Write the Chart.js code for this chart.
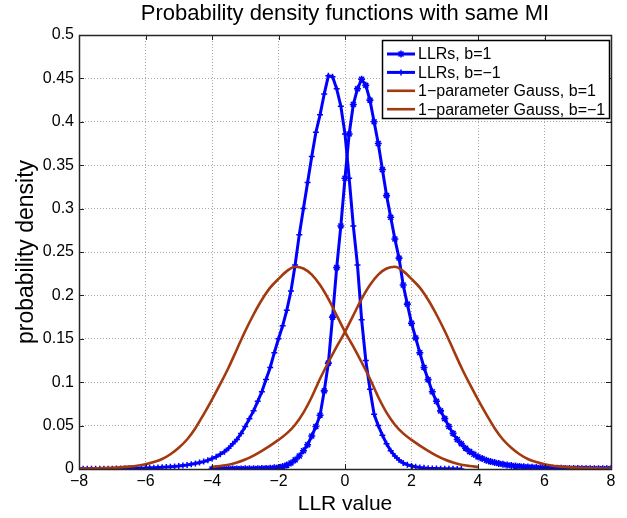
<!DOCTYPE html>
<html><head><meta charset="utf-8">
<script src="https://cdn.jsdelivr.net/npm/chart.js@4/dist/chart.umd.min.js"></script>
<style>html,body{margin:0;padding:0;background:#fff;}</style>
</head><body>
<canvas id="c" width="627" height="518"></canvas>
<script>
// ---- data ----
const chartTitle = "Probability density functions with same MI";
const xAxisLabel = "LLR value";
const yAxisLabel = "probability density";
const seriesLabels = ["LLRs, b=1", "LLRs, b=\u22121", "1\u2212parameter Gauss, b=1", "1\u2212parameter Gauss, b=\u22121"];
const xTicks = [-8, -6, -4, -2, 0, 2, 4, 6, 8];
const yTicks = [0, 0.05, 0.1, 0.15, 0.2, 0.25, 0.3, 0.35, 0.4, 0.45, 0.5];

const llrPosX = [-4,-3.875,-3.75,-3.625,-3.5,-3.375,-3.25,-3.125,-3,-2.875,-2.75,-2.625,-2.5,-2.375,-2.25,-2.125,-2,-1.875,-1.75,-1.625,-1.5,-1.375,-1.25,-1.125,-1,-0.875,-0.75,-0.625,-0.5,-0.375,-0.25,-0.125,0,0.125,0.25,0.375,0.5,0.625,0.75,0.875,1,1.125,1.25,1.375,1.5,1.625,1.75,1.875,2,2.125,2.25,2.375,2.5,2.625,2.75,2.875,3,3.125,3.25,3.375,3.5,3.625,3.75,3.875,4,4.125,4.25,4.375,4.5,4.625,4.75,4.875,5,5.125,5.25,5.375,5.5,5.625,5.75,5.875,6,6.125,6.25,6.375,6.5,6.625,6.75,6.875,7,7.125,7.25,7.375,7.5,7.625,7.75,7.875,8];
const llrPosY = [0,0,0,0,0,0.0001,0.0001,0.0001,0.0002,0.0002,0.0003,0.0004,0.0005,0.0007,0.0009,0.0013,0.0018,0.0028,0.0045,0.007,0.0105,0.015,0.021,0.028,0.038,0.049,0.062,0.09,0.122,0.175,0.232,0.28,0.335,0.386,0.42,0.438,0.449,0.442,0.425,0.4,0.375,0.345,0.315,0.29,0.265,0.243,0.212,0.19,0.168,0.151,0.134,0.117,0.103,0.089,0.078,0.067,0.058,0.049,0.041,0.034,0.029,0.024,0.02,0.017,0.014,0.012,0.01,0.0085,0.0074,0.0063,0.0054,0.0046,0.004,0.0034,0.003,0.0026,0.0022,0.0019,0.0017,0.0015,0.0013,0.0011,0.001,0.0009,0.0008,0.0007,0.0006,0.0005,0.0005,0.0004,0.0004,0.0003,0.0003,0.0003,0.0002,0.0002,0.0002,0.0002];

const llrNegX = [-8,-7.875,-7.75,-7.625,-7.5,-7.375,-7.25,-7.125,-7,-6.875,-6.75,-6.625,-6.5,-6.375,-6.25,-6.125,-6,-5.875,-5.75,-5.625,-5.5,-5.375,-5.25,-5.125,-5,-4.875,-4.75,-4.625,-4.5,-4.375,-4.25,-4.125,-4,-3.875,-3.75,-3.625,-3.5,-3.375,-3.25,-3.125,-3,-2.875,-2.75,-2.625,-2.5,-2.375,-2.25,-2.125,-2,-1.875,-1.75,-1.625,-1.5,-1.375,-1.25,-1.125,-1,-0.875,-0.75,-0.625,-0.5,-0.375,-0.25,-0.125,0,0.125,0.25,0.375,0.5,0.625,0.75,0.875,1,1.125,1.25,1.375,1.5,1.625,1.75,1.875,2,2.125,2.25,2.375,2.5,2.625,2.75,2.875,3,3.125,3.25,3.375,3.5];
const llrNegY = [0.0002,0.0002,0.0002,0.0002,0.0003,0.0003,0.0003,0.0004,0.0004,0.0005,0.0005,0.0006,0.0007,0.0008,0.0009,0.001,0.0011,0.0013,0.0015,0.0017,0.0019,0.0022,0.0026,0.003,0.0034,0.004,0.0046,0.0054,0.0063,0.0074,0.0085,0.01,0.012,0.014,0.017,0.02,0.024,0.029,0.034,0.041,0.049,0.058,0.067,0.078,0.089,0.103,0.117,0.134,0.15,0.165,0.183,0.205,0.235,0.27,0.3,0.33,0.36,0.388,0.408,0.432,0.453,0.452,0.438,0.418,0.386,0.335,0.28,0.235,0.172,0.125,0.092,0.063,0.05,0.039,0.029,0.021,0.015,0.0105,0.007,0.005,0.0035,0.0025,0.0018,0.0013,0.0009,0.0007,0.0005,0.0004,0.0003,0.0002,0.0002,0.0001,0.0001];

const gaussPosX = [-4,-3.75,-3.5,-3.25,-3,-2.75,-2.5,-2.25,-2,-1.75,-1.5,-1.25,-1,-0.75,-0.5,-0.25,0,0.25,0.5,0.75,1,1.25,1.5,1.75,2,2.25,2.5,2.75,3,3.25,3.5,3.75,4,4.25,4.5,4.75,5,5.25,5.5,5.75,6,6.25,6.5,6.75,7,7.25,7.5,7.75,8];
const gaussPosY = [0.0024,0.0035,0.005,0.0075,0.011,0.0155,0.021,0.027,0.0335,0.041,0.051,0.065,0.083,0.104,0.123,0.141,0.158,0.177,0.196,0.212,0.224,0.231,0.233,0.228,0.219,0.209,0.195,0.178,0.159,0.138,0.117,0.098,0.08,0.063,0.047,0.034,0.0245,0.017,0.0115,0.008,0.0055,0.0038,0.0027,0.0019,0.0013,0.001,0.0008,0.0006,0.0005];

const gaussNegX = [-8,-7.75,-7.5,-7.25,-7,-6.75,-6.5,-6.25,-6,-5.75,-5.5,-5.25,-5,-4.75,-4.5,-4.25,-4,-3.75,-3.5,-3.25,-3,-2.75,-2.5,-2.25,-2,-1.75,-1.5,-1.25,-1,-0.75,-0.5,-0.25,0,0.25,0.5,0.75,1,1.25,1.5,1.75,2,2.25,2.5,2.75,3,3.25,3.5,3.75,4];
const gaussNegY = [0.0005,0.0006,0.0008,0.001,0.0013,0.0019,0.0027,0.0038,0.0055,0.008,0.0115,0.017,0.0245,0.034,0.047,0.063,0.08,0.098,0.117,0.138,0.159,0.178,0.195,0.209,0.219,0.228,0.233,0.231,0.224,0.212,0.196,0.177,0.158,0.141,0.123,0.104,0.083,0.065,0.051,0.041,0.0335,0.027,0.021,0.0155,0.011,0.0075,0.005,0.0035,0.0024];

// ---- styling ----
const FONT = "'Liberation Sans', Arial, Helvetica, sans-serif";
const BLUE = '#0000ff';
const BROWN = '#a3390f';
const pts = (xs, ys) => xs.map((x, i) => ({x: x, y: ys[i]}));
const fmt = v => (v < 0 ? '\u2212' + Math.abs(v) : String(v));

function drawMarker(ctx, style, x, y, r) {
  ctx.beginPath();
  if (style === 'cross' || style === 'star') {
    ctx.moveTo(x - r, y); ctx.lineTo(x + r, y);
    ctx.moveTo(x, y - r); ctx.lineTo(x, y + r);
  }
  if (style === 'star') {
    const d = r * 0.72;
    ctx.moveTo(x - d, y - d); ctx.lineTo(x + d, y + d);
    ctx.moveTo(x - d, y + d); ctx.lineTo(x + d, y - d);
  }
  ctx.stroke();
}

const decor = {
  id: 'decor',
  afterDraw(chart) {
    const {ctx, chartArea: a, scales} = chart;
    ctx.save();
    ctx.strokeStyle = '#222';
    ctx.lineWidth = 1;
    ctx.setLineDash([]);
    ctx.beginPath();
    scales.x.ticks.forEach(t => {
      const px = Math.round(scales.x.getPixelForValue(t.value)) + 0.5;
      ctx.moveTo(px, a.bottom); ctx.lineTo(px, a.bottom - 5);
      ctx.moveTo(px, a.top); ctx.lineTo(px, a.top + 5);
    });
    scales.y.ticks.forEach(t => {
      const py = Math.round(scales.y.getPixelForValue(t.value)) + 0.5;
      ctx.moveTo(a.left, py); ctx.lineTo(a.left + 5, py);
      ctx.moveTo(a.right, py); ctx.lineTo(a.right - 5, py);
    });
    ctx.stroke();
    ctx.strokeStyle = '#262626';
    ctx.lineWidth = 1.5;
    ctx.strokeRect(Math.round(a.left) + 0.5, Math.round(a.top) + 0.5, Math.round(a.right - a.left), Math.round(a.bottom - a.top));
    // legend
    const lx = 382.5, ly = 40.5, lw = 227, lh = 78;
    ctx.fillStyle = '#fff';
    ctx.fillRect(lx, ly, lw, lh);
    ctx.strokeStyle = '#000';
    ctx.lineWidth = 1.5;
    ctx.strokeRect(lx, ly, lw, lh);
    ctx.font = '16px ' + FONT;
    ctx.textBaseline = 'middle';
    ctx.textAlign = 'left';
    chart.data.datasets.forEach((ds, i) => {
      const y = 54 + i * 18.4;
      ctx.strokeStyle = ds.borderColor;
      ctx.lineWidth = ds.borderWidth;
      ctx.beginPath(); ctx.moveTo(387, y); ctx.lineTo(415, y); ctx.stroke();
      if (ds.pointRadius > 0) {
        ctx.lineWidth = ds.pointBorderWidth;
        drawMarker(ctx, ds.pointStyle, 401, y, ds.pointRadius);
      }
      ctx.fillStyle = '#000';
      ctx.fillText(ds.label, 418, y + 1);
    });
    ctx.restore();
  }
};

new Chart(document.getElementById('c'), {
  type: 'line',
  data: {
    datasets: [
      {label: seriesLabels[0], data: pts(llrPosX, llrPosY), borderColor: BLUE, backgroundColor: BLUE, borderWidth: 3,
       pointStyle: 'star', pointRadius: 3.5, pointBorderWidth: 1.6, pointBorderColor: BLUE, order: 1},
      {label: seriesLabels[1], data: pts(llrNegX, llrNegY), borderColor: BLUE, backgroundColor: BLUE, borderWidth: 3,
       pointStyle: 'cross', pointRadius: 3, pointBorderWidth: 1.5, pointBorderColor: BLUE, order: 1},
      {label: seriesLabels[2], data: pts(gaussPosX, gaussPosY), borderColor: BROWN, backgroundColor: BROWN, borderWidth: 2.6,
       pointRadius: 0, cubicInterpolationMode: 'monotone', order: 0},
      {label: seriesLabels[3], data: pts(gaussNegX, gaussNegY), borderColor: BROWN, backgroundColor: BROWN, borderWidth: 2.6,
       pointRadius: 0, cubicInterpolationMode: 'monotone', order: 0}
    ]
  },
  options: {
    responsive: false,
    animation: false,
    devicePixelRatio: 1,
    layout: {padding: {left: 0, right: 16, top: 0, bottom: 0}},
    elements: {line: {tension: 0}, point: {hoverRadius: 3}},
    plugins: {
      legend: {display: false},
      tooltip: {enabled: false},
      title: {display: true, text: chartTitle, color: '#000', fullSize: false,
              font: {family: FONT, size: 22, weight: 'normal'}, padding: {top: 1, bottom: 7.6}}
    },
    scales: {
      x: {
        type: 'linear', min: -8, max: 8,
        afterFit: s => { s.height = 49; },
        afterBuildTicks: s => { s.ticks = xTicks.map(v => ({value: v})); },
        ticks: {color: '#000', font: {family: FONT, size: 16}, padding: 3, maxRotation: 0, callback: v => fmt(v)},
        grid: {color: '#a8a8a8', lineWidth: 1, drawTicks: false},
        border: {display: false, dash: [1, 2]},
        title: {display: true, text: xAxisLabel, color: '#000', font: {family: FONT, size: 21}, padding: {top: 0, bottom: 1}}
      },
      y: {
        type: 'linear', min: 0, max: 0.5,
        afterFit: s => { s.width = 79; },
        afterBuildTicks: s => { s.ticks = yTicks.map(v => ({value: v})); },
        ticks: {color: '#000', font: {family: FONT, size: 16}, padding: 5, callback: v => String(v)},
        grid: {color: '#a8a8a8', lineWidth: 1, drawTicks: false},
        border: {display: false, dash: [1, 2]},
        title: {display: true, text: yAxisLabel, color: '#000', font: {family: FONT, size: 23}, padding: {top: 13, bottom: 0}}
      }
    }
  },
  plugins: [decor]
});
</script>
</body></html>
